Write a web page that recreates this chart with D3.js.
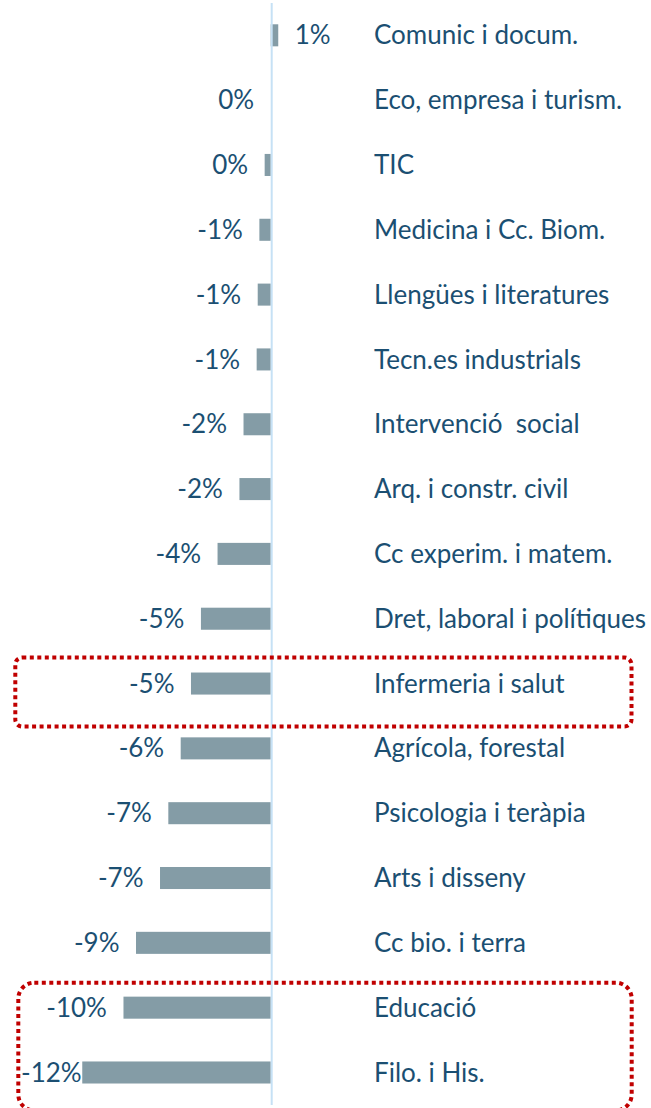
<!DOCTYPE html>
<html><head><meta charset="utf-8">
<script src="https://cdn.jsdelivr.net/npm/d3@7"></script>
<style>
html,body{margin:0;padding:0;background:#fff;}
svg{display:block;}
</style></head>
<body>
<script>
const categories = ["Comunic i docum.","Eco, empresa i turism.","TIC","Medicina i Cc. Biom.","Llengües i literatures","Tecn.es industrials","Intervenció  social","Arq. i constr. civil","Cc experim. i matem.","Dret, laboral i polítiques","Infermeria i salut","Agrícola, forestal","Psicologia i teràpia","Arts i disseny","Cc bio. i terra","Educació","Filo. i His."];
const values = [0.5, 0, -0.4, -0.75, -0.86, -0.93, -1.8, -2.07, -3.52, -4.62, -5.28, -5.96, -6.78, -7.33, -8.92, -9.75, -12.48];
const highlightGroups = [["Infermeria i salut"], ["Educació","Filo. i His."]];

const W = 651, H = 1108;
const FONT = "Lato, 'Open Sans', sans-serif";
const FS = 26;
const textColor = "#1b4f72";
const barColor = "#849ca6";

const svg = d3.select("body").append("svg").attr("width", W).attr("height", H);

const x = d3.scaleLinear().domain([-13, 1]).range([270.7 - 13*15.1, 270.7 + 15.1]);
const y = d3.scaleBand().domain(categories).range([2.9, 1104.9]).paddingInner(0.66).paddingOuter(0.33);

// bars
svg.append("g").selectAll("rect").data(values).join("rect")
  .attr("x", d => Math.min(x(d), x(0)))
  .attr("width", d => Math.abs(x(d) - x(0)))
  .attr("y", (d,i) => y(categories[i]))
  .attr("height", y.bandwidth())
  .attr("fill", barColor);

// zero axis line
svg.append("line")
  .attr("x1", x(0)+1).attr("x2", x(0)+1)
  .attr("y1", y.range()[0]).attr("y2", y.range()[1])
  .attr("stroke", "#c6e1f5").attr("stroke-width", 2);

// value labels
const fmt = v => { const r = Math.round(v); return (r === 0 ? 0 : r) + "%"; };
const gap = 16.5, minLeft = 21;
svg.append("g").selectAll("text").data(values).join("text")
  .attr("y", (d,i) => y(categories[i]) + y.bandwidth()/2)
  .attr("dy", "0.35em")
  .attr("font-family", FONT).attr("font-size", FS).attr("fill", textColor)
  .text(d => fmt(d))
  .each(function(d){
    const t = d3.select(this);
    if (d > 0) {
      t.attr("x", x(d) + gap).attr("text-anchor", "start");
    } else {
      const w = this.getComputedTextLength();
      let xe = Math.min(x(d), x(0)) - gap;
      if (xe - w < minLeft) xe = minLeft + w;
      t.attr("x", xe).attr("text-anchor", "end");
    }
  });

// category labels
svg.append("g").selectAll("text").data(categories).join("text")
  .attr("x", 374)
  .attr("y", d => y(d) + y.bandwidth()/2)
  .attr("dy", "0.35em")
  .attr("font-family", FONT).attr("font-size", FS).attr("fill", textColor)
  .attr("xml:space", "preserve")
  .style("white-space", "pre")
  .text(d => d);

// highlight boxes (red dotted rounded rectangles)
const boxes = [
  {g: highlightGroups[0], x0: 15.3, x1: 631.5, pt: 15, pb: 32, r: 7},
  {g: highlightGroups[1], x0: 18.3, x1: 631.7, pt: 14, pb: 27, r: 16}
];
boxes.forEach(b => {
  const top = y(b.g[0]) - b.pt;
  const bot = y(b.g[b.g.length-1]) + y.bandwidth() + b.pb;
  svg.append("rect")
    .attr("x", b.x0).attr("y", top)
    .attr("width", b.x1 - b.x0).attr("height", bot - top)
    .attr("rx", b.r).attr("ry", b.r)
    .attr("fill", "none")
    .attr("stroke", "#c00000").attr("stroke-width", 4)
    .attr("stroke-dasharray", "4,3.5");
});
</script>
</body></html>
